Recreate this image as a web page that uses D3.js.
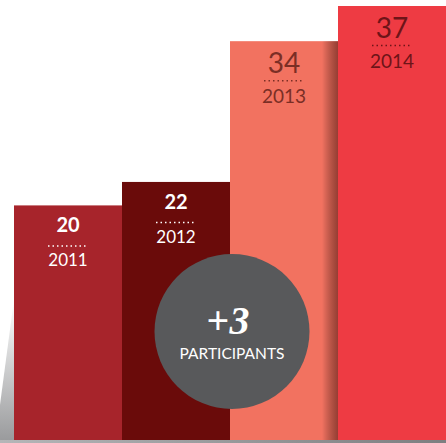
<!DOCTYPE html>
<html><head><meta charset="utf-8">
<script src="https://cdn.jsdelivr.net/npm/d3@7"></script>
<style>html,body{margin:0;padding:0;background:#fff;}svg{display:block;}</style>
</head><body>
<script>
const years = ["2011", "2012", "2013", "2014"];
const values = [20, 22, 34, 37];
const barColors = ["#a7242b", "#6a0b0a", "#f27260", "#ee3b43"];
const labelColors = ["#ffffff", "#ffffff", "#7b2e25", "#6e1418"];
const badgeValue = "+3";
const badgeLabel = "PARTICIPANTS";

const W = 446, H = 443;
const svg = d3.select("body").append("svg").attr("width", W).attr("height", H);
const defs = svg.append("defs");

const x = d3.scaleBand().domain(years).range([14, 446]).padding(0);
const y = d3.scaleLinear().domain([0, 37]).range([440, 6]);

// gradients
const sg = defs.append("linearGradient").attr("id", "shadowR").attr("x1", 0).attr("x2", 1).attr("y1", 0).attr("y2", 0);
sg.append("stop").attr("offset", 0).attr("stop-color", "#000").attr("stop-opacity", 0);
sg.append("stop").attr("offset", 1).attr("stop-color", "#3a0a06").attr("stop-opacity", 0.5);
const lg = defs.append("linearGradient").attr("id", "shadowL").attr("x1", 0).attr("x2", 0).attr("y1", 0).attr("y2", 1);
lg.append("stop").attr("offset", 0).attr("stop-color", "#fff").attr("stop-opacity", 1);
lg.append("stop").attr("offset", 1).attr("stop-color", "#9a9b9d").attr("stop-opacity", 1);
const bg = defs.append("linearGradient").attr("id", "baseG").attr("x1", 0).attr("x2", 1).attr("y1", 0).attr("y2", 0);
bg.append("stop").attr("offset", 0).attr("stop-color", "#b5b6b8");
bg.append("stop").attr("offset", 1).attr("stop-color", "#7d7e80");

// left shadow
svg.append("path").attr("d", `M${x(years[0])},${y(12)} L${x(years[0])},${y(0)} L0,${y(0)} L0,${y(3)} Z`).attr("fill", "url(#shadowL)");

// bars
svg.selectAll("rect.bar").data(years).join("rect").attr("class", "bar")
  .attr("x", d => x(d)).attr("width", x.bandwidth() + 0.5)
  .attr("y", (d, i) => y(values[i])).attr("height", (d, i) => y(0) - y(values[i]))
  .attr("fill", (d, i) => barColors[i]);

// shadow cast on the 2013 bar by 2014
svg.append("rect").attr("x", x("2013") + x.bandwidth() - 16).attr("width", 16)
  .attr("y", y(values[2])).attr("height", y(0) - y(values[2]))
  .attr("fill", "url(#shadowR)");

// base line
svg.append("rect").attr("x", 0).attr("y", 440).attr("width", W).attr("height", 3).attr("fill", "url(#baseG)");

// labels
const big = [false, false, true, true];
const g = svg.selectAll("g.lab").data(years).join("g").attr("class", "lab")
  .attr("transform", (d, i) => `translate(${x(d) + x.bandwidth() / 2},${y(values[i])})`);
g.append("text").attr("text-anchor", "middle")
  .attr("y", (d, i) => big[i] ? 32 : 27)
  .attr("font-family", "Lato, 'Open Sans', sans-serif")
  .attr("font-weight", (d, i) => big[i] ? 400 : 700)
  .attr("font-size", (d, i) => big[i] ? 28 : 20)
  .attr("fill", (d, i) => labelColors[i])
  .text((d, i) => values[i]);
g.append("line").attr("x1", -20).attr("x2", 20)
  .attr("y1", (d, i) => big[i] ? 39.5 : 40.5).attr("y2", (d, i) => big[i] ? 39.5 : 40.5)
  .attr("stroke", (d, i) => labelColors[i]).attr("stroke-width", 1.5).attr("stroke-dasharray", "1.5,3");
g.append("text").attr("text-anchor", "middle")
  .attr("y", (d, i) => big[i] ? 62 : 61)
  .attr("font-family", "Lato, 'Open Sans', sans-serif")
  .attr("font-size", (d, i) => big[i] ? 19 : 17)
  .attr("fill", (d, i) => labelColors[i])
  .text(d => d);

// badge
const cx = 232, cy = 331.5;
svg.append("circle").attr("cx", cx).attr("cy", cy).attr("r", 77.5).attr("fill", "#58595b");
const t = svg.append("text").attr("x", cx - 4).attr("y", 334).attr("text-anchor", "middle")
  .attr("font-family", "'Liberation Serif', 'DejaVu Serif', serif").attr("font-weight", 700)
  .attr("font-size", 40).attr("fill", "#fff");
t.append("tspan").text(badgeValue[0]);
t.append("tspan").attr("font-style", "italic").text(badgeValue.slice(1));
svg.append("text").attr("x", cx).attr("y", 359).attr("text-anchor", "middle")
  .attr("font-family", "Lato, 'Open Sans', sans-serif").attr("font-size", 15.5)
  .attr("fill", "#fff").text(badgeLabel);
</script>
</body></html>
